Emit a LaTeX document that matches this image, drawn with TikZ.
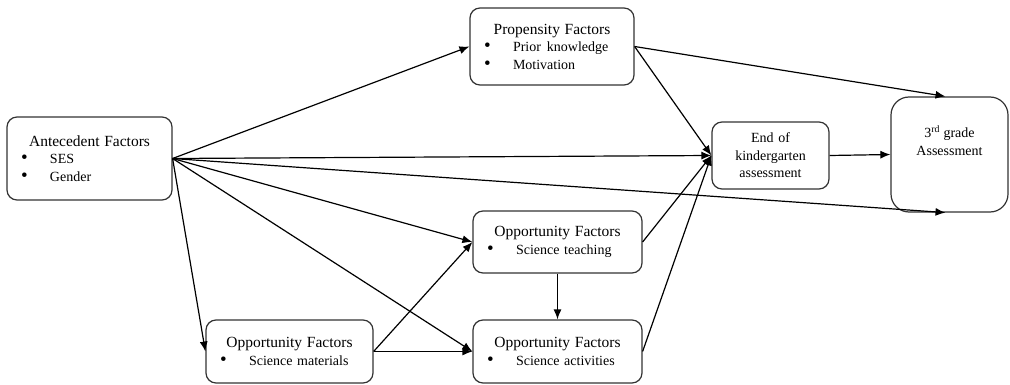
\documentclass[tikz,border=0pt]{standalone}
\usepackage{fontspec}
\setmainfont{Liberation Serif}
\usetikzlibrary{arrows.meta}
\newcommand{\titlefont}{\fontsize{15.5}{17.5}\selectfont}
\newcommand{\itemfont}{\fontsize{14}{17.5}\selectfont}
\newcommand{\bitem}[1]{\makebox[\hsize][l]{\hspace*{14pt}\makebox[29pt][l]{\fontsize{19}{17.5}\selectfont\textbullet}#1}}

\begin{document}
\begin{tikzpicture}[x=1pt,y=-1pt]
\tikzstyle{every node}+=[inner sep=0pt]
\tikzstyle{factor}=[draw=black!80,line width=1.2pt,rounded corners=10pt,align=center,font=\itemfont]
\tikzstyle{arr}=[line width=1.2pt,-{Latex[length=10pt,width=8pt]}]
\useasboundingbox (0,0) rectangle (1010,385);
\node [factor,text width=165pt,minimum height=83pt] (ante) at (89.5,158.5) {{\titlefont Antecedent Factors}\\\bitem{SES}\\\bitem{Gender}\\[-4pt]};
\node [factor,text width=164pt,minimum height=77pt] (prop) at (552,46.5) {{\titlefont Propensity Factors}\\\bitem{Prior\hspace{6pt}knowledge}\\\bitem{Motivation}\\[-4pt]};
\node [factor,text width=169pt,minimum height=62pt] (teach) at (557.5,242) {{\titlefont Opportunity Factors}\\\bitem{Science teaching}\\[-4pt]};
\node [factor,text width=167pt,minimum height=63pt] (mat) at (289.5,351.5) {{\titlefont Opportunity Factors}\\\bitem{Science materials}\\[-4pt]};
\node [factor,text width=169pt,minimum height=63pt] (act) at (557.5,351.5) {{\titlefont Opportunity Factors}\\\bitem{Science activities}\\[-4pt]};
\node [factor,text width=117pt,minimum height=67pt] (endk) at (770.5,155.5) {End of\\kindergarten\\assessment};
\node [factor,rounded corners=18pt,minimum width=117pt,minimum height=115pt,label={[anchor=north,yshift=-29pt,align=center,font=\itemfont]north:3\textsuperscript{rd} grade\\Assessment}] (third) at (949.5,154.5) {};
% paths out of the antecedent factors
\draw [arr] (ante.east) -- (prop.west);
\draw [arr] (ante.east) -- (endk.west);
\draw [arr] (ante.east) -- ([xshift=-4pt]third.south);
\draw [arr] (ante.east) -- (teach.west);
\draw [arr] (ante.east) -- (act.west);
\draw [arr] (ante.east) -- (mat.west);
% opportunity factors
\draw [arr] (mat.east) -- (teach.west);
\draw [arr] (mat.east) -- (act.west);
\draw [arr] (teach.south) -- (act.north);
% into the assessments
\draw [arr] (prop.east) -- (endk.west);
\draw [arr] (prop.east) -- ([xshift=-4pt]third.north);
\draw [arr] (teach.east) -- (endk.west);
\draw [arr] (act.east) -- (endk.west);
\draw [arr] (endk.east) -- (third.west);
\end{tikzpicture}
\end{document}
